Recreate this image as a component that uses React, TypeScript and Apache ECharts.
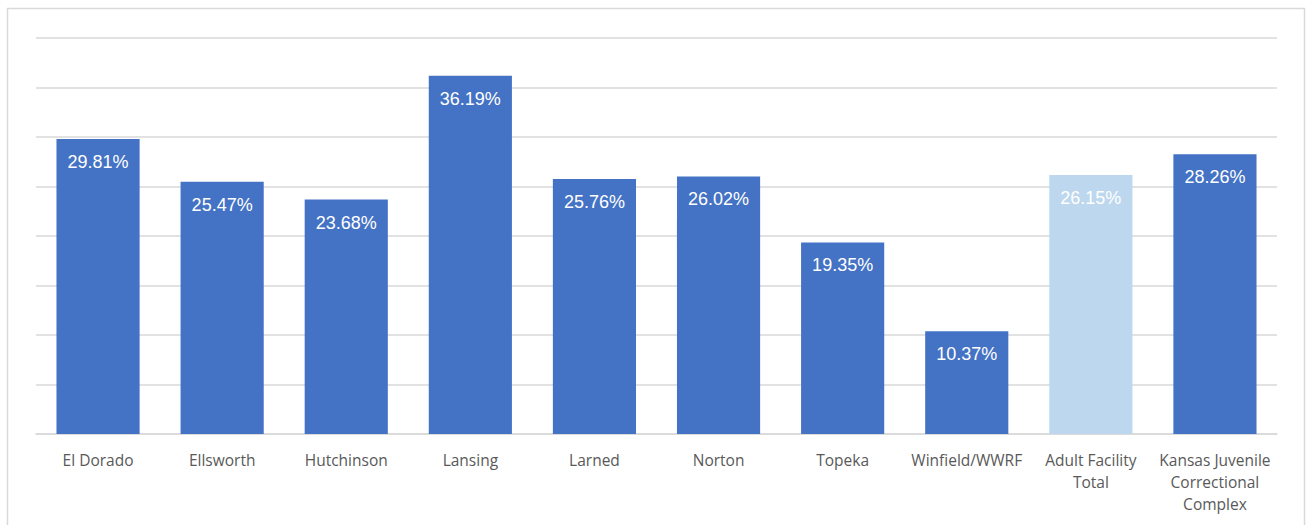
import React, { useEffect, useRef } from "react";
import * as echarts from "echarts";

const categories = [
  "El Dorado",
  "Ellsworth",
  "Hutchinson",
  "Lansing",
  "Larned",
  "Norton",
  "Topeka",
  "Winfield/WWRF",
  "Adult Facility\nTotal",
  "Kansas Juvenile\nCorrectional\nComplex",
];
const values = [29.81, 25.47, 23.68, 36.19, 25.76, 26.02, 19.35, 10.37, 26.15, 28.26];
const highlightIndex = 8;

export default function App() {
  const ref = useRef<HTMLDivElement>(null);
  useEffect(() => {
    if (!ref.current) return;
    const chart = echarts.init(ref.current, undefined, { renderer: "svg" });
    chart.setOption({
      animation: false,
      backgroundColor: "#ffffff",
      graphic: [
        {
          type: "rect",
          shape: { x: 7.5, y: 8.5, width: 1297, height: 540 },
          style: { fill: "none", stroke: "#d9d9d9", lineWidth: 1.5 },
          silent: true,
        },
      ],
      grid: { left: 36, right: 30, top: 38, bottom: 91, containLabel: false },
      xAxis: {
        type: "category",
        data: categories,
        axisLine: { show: true, lineStyle: { color: "#d9d9d9", width: 1.5 } },
        axisTick: { show: false },
        axisLabel: {
          color: "#595959",
          fontFamily: "Open Sans",
          fontSize: 15.5,
          lineHeight: 22,
          margin: 15,
          interval: 0,
        },
      },
      yAxis: {
        type: "value",
        min: 0,
        max: 40,
        interval: 5,
        axisLabel: { show: false },
        axisLine: { show: false },
        axisTick: { show: false },
        splitLine: { lineStyle: { color: "#d9d9d9", width: 1.5 } },
      },
      series: [
        {
          type: "bar",
          barWidth: "67%",
          data: values.map((v, i) => ({
            value: v,
            itemStyle: { color: i === highlightIndex ? "#bdd7ee" : "#4472c4" },
          })),
          label: {
            show: true,
            position: "insideTop",
            distance: 14,
            color: "#ffffff",
            fontFamily: "Liberation Sans",
            fontSize: 18,
            formatter: (p: any) => p.value.toFixed(2) + "%",
          },
        },
      ],
    });
    return () => chart.dispose();
  }, []);
  return (
    <div
      ref={ref}
      style={{ position: "absolute", left: 0, top: 0, width: 1307, height: 525 }}
    />
  );
}
